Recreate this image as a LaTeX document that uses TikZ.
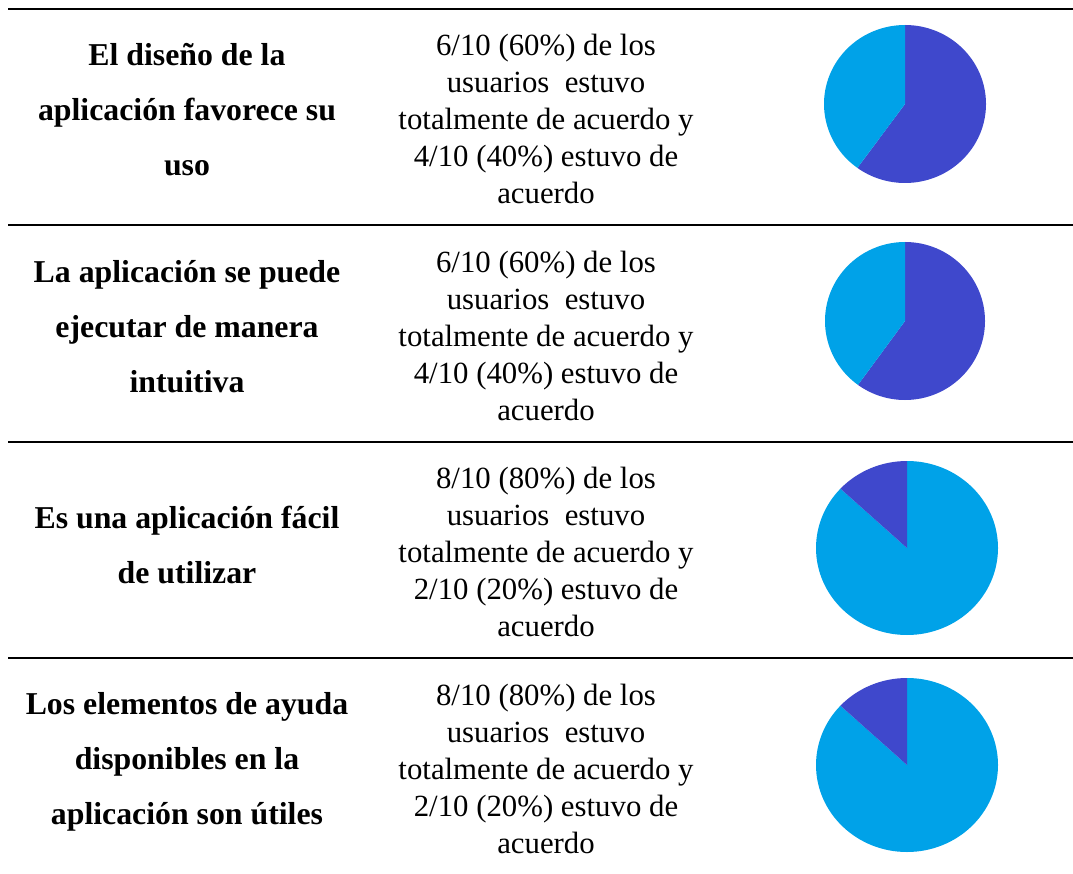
\documentclass[tikz,border=0pt]{standalone}
\usepackage{fontspec}
\setmainfont{Liberation Serif}
\definecolor{pdark}{RGB}{63,72,204}
\definecolor{plight}{RGB}{0,162,232}
\tikzset{
  rule/.style={line width=2.5pt, black},
  crit/.style={align=center, inner sep=0pt, font=\fontsize{31.8}{55}\selectfont\bfseries},
  res/.style={align=center, inner sep=0pt, font=\fontsize{30.8}{36.8}\selectfont},
}
\begin{document}
\begin{tikzpicture}[x=1pt,y=-1pt]
\useasboundingbox (0,0) rectangle (1073,874);
% rules
\draw[rule] (8,9) -- (1073,9);
\draw[rule] (8,225) -- (1073,225);
\draw[rule] (8,442) -- (1073,442);
\draw[rule] (8,658) -- (1073,658);
% row 1
\node[crit] (c1) at (187,110) {El diseño de la\\aplicación favorece su\\uso};
\node[res] (r1) at (546,119) {6/10 (60\%) de los\\usuarios\ \ estuvo\\totalmente de acuerdo y\\4/10 (40\%) estuvo de\\acuerdo};
\fill[pdark] (905,104) -- ++(0,-79) arc[start angle=-90,end angle=126,x radius=81,y radius=79] -- cycle;
\fill[plight] (905,104) -- ++(126:81 and 79) arc[start angle=126,end angle=270,x radius=81,y radius=79] -- cycle;
% row 2
\node[crit] (c2) at (187,327) {La aplicación se puede\\ejecutar de manera\\intuitiva};
\node[res] (r2) at (546,336) {6/10 (60\%) de los\\usuarios\ \ estuvo\\totalmente de acuerdo y\\4/10 (40\%) estuvo de\\acuerdo};
\fill[pdark] (905,321) -- ++(0,-79) arc[start angle=-90,end angle=126,x radius=80,y radius=79] -- cycle;
\fill[plight] (905,321) -- ++(126:80 and 79) arc[start angle=126,end angle=270,x radius=80,y radius=79] -- cycle;
% row 3
\node[crit] (c3) at (187,545) {Es una aplicación fácil\\de utilizar};
\node[res] (r3) at (546,552) {8/10 (80\%) de los\\usuarios\ \ estuvo\\totalmente de acuerdo y\\2/10 (20\%) estuvo de\\acuerdo};
\fill[plight] (907,548) -- ++(0,-87) arc[start angle=-90,end angle=223,x radius=91,y radius=87] -- cycle;
\fill[pdark] (907,548) -- ++(223:91 and 87) arc[start angle=223,end angle=270,x radius=91,y radius=87] -- cycle;
% row 4
\node[crit] (c4) at (187,762) {Los elementos de ayuda\\disponibles en la\\aplicación son útiles};
\node[res] (r4) at (546,769) {8/10 (80\%) de los\\usuarios\ \ estuvo\\totalmente de acuerdo y\\2/10 (20\%) estuvo de\\acuerdo};
\fill[plight] (907,765) -- ++(0,-87) arc[start angle=-90,end angle=223,x radius=91,y radius=87] -- cycle;
\fill[pdark] (907,765) -- ++(223:91 and 87) arc[start angle=223,end angle=270,x radius=91,y radius=87] -- cycle;
\end{tikzpicture}
\end{document}
